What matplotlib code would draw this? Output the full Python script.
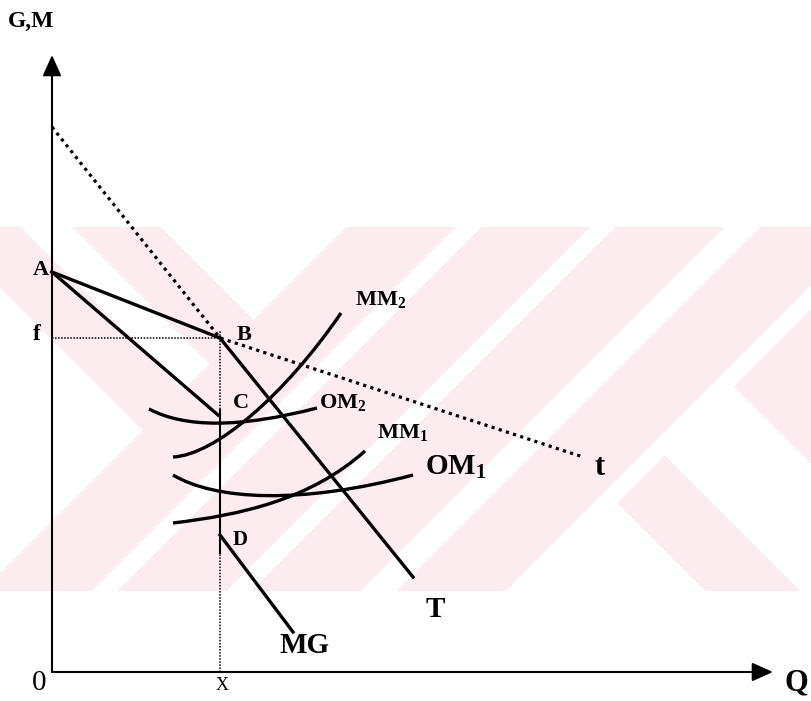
import numpy as np
import matplotlib
matplotlib.use("Agg")
import matplotlib.pyplot as plt
from matplotlib.path import Path
from matplotlib.patches import PathPatch

plt.rcParams['font.family'] = ['Liberation Serif', 'DejaVu Serif']
plt.rcParams['mathtext.fontset'] = 'custom'
plt.rcParams['mathtext.rm'] = 'Liberation Serif'
plt.rcParams['mathtext.bf'] = 'Liberation Serif:bold'
plt.rcParams['mathtext.it'] = 'Liberation Serif:italic'
plt.rcParams['mathtext.default'] = 'regular'

# ---------------- data (Q on x, G/M on y) ----------------
point_A = (0, 400)
point_B = (168, 334)
point_C = (166, 257)
point_D = (168, 137)
x_level = 168
f_level = 334
steep_start = (0, 545)          # start of dotted line through B
t_end = (531, 215)              # end of dotted line "t"
mg_end = (241, 40)
T_end = (361, 95)
vert_dotted_top = 342
vert_solid = (119, 262)
q_max = 721
g_max = 617

# cubic curve control points
MM2_pts = [(121, 215), (163, 217), (233, 277), (289, 359)]
OM2_pts = [(97, 263), (133, 244), (188, 244), (265, 264)]
MM1_pts = [(121, 149), (188, 157), (258, 172), (313, 221)]
OM1_pts = [(121, 197), (163, 172), (248, 167), (361, 197)]

# labels: (text, Q, G, size, weight, ha)
labels = [
    ("G,M", -44, 645, 17, 'bold', 'left'),
    ("A", -11, 397, 16, 'bold', 'center'),
    ("f", -15, 332, 17, 'bold', 'center'),
    ("B", 185, 332, 16, 'bold', 'left'),
    ("C", 181, 264, 16, 'bold', 'left'),
    ("D", 181, 127, 15, 'bold', 'left'),
    ("MM$_2$", 303, 367, 16, 'bold', 'left'),
    ("OM$_2$", 267, 264, 16, 'bold', 'left'),
    ("MM$_1$", 325, 234, 16, 'bold', 'left'),
    ("OM$_1$", 373, 197, 21, 'bold', 'left'),
    ("t", 548, 197, 22, 'bold', 'center'),
    ("T", 383, 55, 21, 'bold', 'center'),
    ("MG", 228, 19, 21, 'bold', 'left'),
    ("0", -13, -18, 21, 'normal', 'center'),
    ("X", 170, -18, 13, 'normal', 'center'),
    ("Q", 733, -18, 22, 'bold', 'left'),
]

# ---------------- figure ----------------
W, H = 811, 701
ox, oy = 52, 672  # pixel position of the origin
fig = plt.figure(figsize=(W / 100, H / 100), dpi=100)
ax = fig.add_axes([0, 0, 1, 1])
ax.set_xlim(-ox, W - ox)
ax.set_ylim(oy - H, oy)
ax.axis('off')

# background watermark (light pink diagonal bands)
yy, xx = np.mgrid[0:H, 0:W].astype(float)
s = xx + yy
d = xx - yy
pink = np.zeros((H, W), bool)
left = s < 573
pink |= left & (((d >= -287) & (d < -206)) | ((d >= -154) & (d < -66)))
for a, b in [(573, 682), (708, 817), (842, 951), (987, 1096)]:
    pink |= (s >= a) & (s < b)
right = s >= 1120
pink |= right & (((d >= 115) & (d < 210)) | (d >= 348))
pink &= (yy >= 227) & (yy <= 590)
img = np.ones((H, W, 3))
img[pink] = np.array([253, 236, 239]) / 255
ax.imshow(img, extent=(-ox, W - ox, oy - H, oy), origin='upper',
          aspect='auto', zorder=0, interpolation='nearest')

black = 'black'
# axes with arrows
ax.annotate('', xy=(0, g_max), xytext=(0, 0),
            arrowprops=dict(arrowstyle='-|>,head_length=0.85,head_width=0.38',
                            mutation_scale=15, lw=1.5, color=black,
                            shrinkA=0, shrinkB=0))
ax.annotate('', xy=(q_max, 0), xytext=(0, 0),
            arrowprops=dict(arrowstyle='-|>,head_length=0.85,head_width=0.38',
                            mutation_scale=15, lw=1.5, color=black,
                            shrinkA=0, shrinkB=0))

# thick dotted lines
ax.plot([steep_start[0], point_B[0], t_end[0]],
        [steep_start[1], point_B[1], t_end[1]],
        color=black, lw=2.3, linestyle=(0, (1, 1.35)), zorder=3)

# thin dotted guides
ax.plot([0, point_B[0]], [f_level, f_level], color=black, lw=1.1,
        linestyle=(0, (1, 1)), zorder=2)
ax.plot([x_level, x_level], [0, vert_dotted_top], color=black, lw=1.1,
        linestyle=(0, (1, 1)), zorder=2)
ax.plot([x_level, x_level], list(vert_solid), color=black, lw=1.5, zorder=2)

# solid lines
lw = 2.4
ax.plot([point_A[0], point_B[0]], [point_A[1], point_B[1]], color=black, lw=lw, zorder=4)
ax.plot([point_A[0], point_C[0]], [point_A[1], point_C[1]], color=black, lw=lw, zorder=4)
ax.plot([point_B[0], T_end[0]], [point_B[1], T_end[1]], color=black, lw=lw, zorder=4)
ax.plot([point_D[0], mg_end[0]], [point_D[1], mg_end[1]], color=black, lw=lw, zorder=4)

# curves
for pts in (MM2_pts, OM2_pts, MM1_pts, OM1_pts):
    path = Path(pts, [Path.MOVETO, Path.CURVE4, Path.CURVE4, Path.CURVE4])
    ax.add_patch(PathPatch(path, fill=False, lw=lw, edgecolor=black,
                           capstyle='butt', zorder=4))

for txt, qx, gy, size, weight, ha in labels:
    ax.text(qx, gy, txt, fontsize=size, fontweight=weight, ha=ha,
            va='baseline', color=black, zorder=5)

fig.savefig('out.png', dpi=100)
